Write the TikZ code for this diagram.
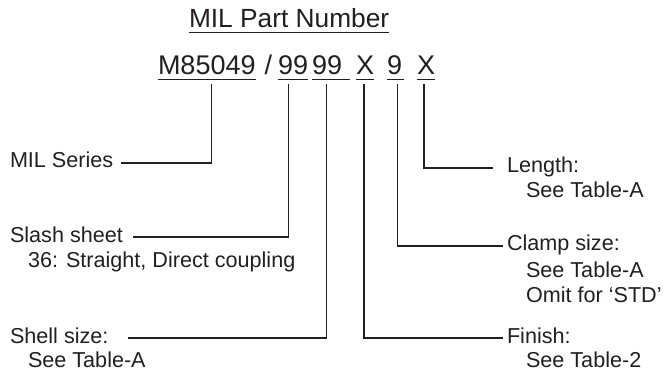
\documentclass[tikz,border=0pt]{standalone}
\usepackage{fontspec}
\setmainfont{Liberation Sans}
\definecolor{ink}{RGB}{35,31,32}
\begin{document}
\begin{tikzpicture}[x=1pt,y=-1pt,
  every node/.style={inner sep=0pt,outer sep=0pt,text=ink},
  seg/.style={anchor=base west,font=\fontsize{27}{30}\selectfont,text height=18pt,text depth=0pt},
  ttl/.style={anchor=base west,font=\fontsize{26.3}{30}\selectfont,text height=18pt,text depth=0pt},
  lab/.style={anchor=base west,font=\fontsize{21.6}{25}\selectfont,text height=10pt,text depth=0pt},
  sub/.style={anchor=base west,font=\fontsize{21.6}{25}\selectfont},
  ul/.style={draw=ink,line width=1.7pt},
  conn/.style={draw=ink,line width=1.4pt}]
\useasboundingbox (0,0) rectangle (663,371);
% title
\node[ttl] (title) at (189,28) {MIL Part Number};
\draw[ul] ([yshift=-4.5]title.south west) -- ([yshift=-4.5]title.south east);
% part number segments
\node[seg] (s1) at (158,75) {M85049};
\node[seg] (sl) at (264.5,75) {/};
\node[seg] (s2) at (278,75) {99};
\node[seg] (s3) at (312,75) {99};
\node[seg] (s4) at (356,75) {X};
\node[seg] (s5) at (387,75) {9};
\node[seg] (s6) at (417,75) {X};
\draw[ul] ([yshift=-4.5]s1.south west) -- ([yshift=-4.5]s1.south east);
\draw[ul] ([yshift=-4.5]s2.south west) -- ([yshift=-4.5]s2.south east);
\draw[ul] ([yshift=-4.5]s3.south west) -- ([yshift=-4.5,xshift=8]s3.south east);
\draw[ul] ([yshift=-4.5]s4.south west) -- ([yshift=-4.5]s4.south east);
\draw[ul] ([yshift=-4.5]s5.south west) -- ([yshift=-4.5,xshift=2]s5.south east);
\draw[ul] ([yshift=-4.5]s6.south west) -- ([yshift=-4.5]s6.south east);
% left labels
\node[lab] (mil) at (10,168) {MIL Series};
\node[lab] (slash) at (10,242) {Slash sheet};
\node[sub] (slash2) at (28,267) {36: Straight, Direct coupling};
\node[lab] (shell) at (10,343) {Shell size:};
\node[sub] (shell2) at (28,367) {See Table-A};
% right labels
\node[lab] (len) at (507,173) {Length:};
\node[sub] (len2) at (526,198) {See Table-A};
\node[lab] (clamp) at (507,251) {Clamp size:};
\node[sub] (clamp2) at (526,277) {See Table-A};
\node[sub] (clamp3) at (526,302) {Omit for ‘STD’};
\node[lab] (fin) at (507,343) {Finish:};
\node[sub] (fin2) at (526,367) {See Table-2};
% connectors
\draw[conn] ([yshift=-9,xshift=5]s1.south) |- ([xshift=8]mil.east);
\draw[conn] ([yshift=-9,xshift=-4.5]s2.south) |- ([xshift=10]slash.east);
\draw[conn] ([yshift=-9,xshift=-0.5]s3.south) |- ([xshift=20]shell.east);
\draw[conn] ([yshift=-9,xshift=-1]s4.south) |- ([xshift=-4]fin.west);
\draw[conn] ([yshift=-9,xshift=3]s5.south) |- ([xshift=-4]clamp.west);
\draw[conn] ([yshift=-9,xshift=-2]s6.south) |- ([xshift=-14]len.west);
\end{tikzpicture}
\end{document}
